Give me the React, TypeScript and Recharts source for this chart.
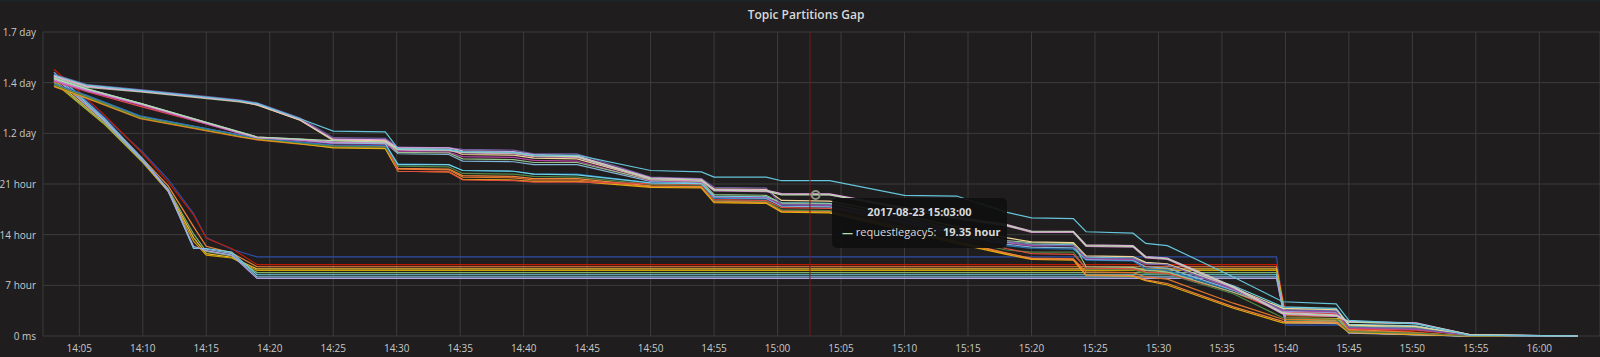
import { LineChart, Line, XAxis, YAxis, CartesianGrid, ReferenceLine, ReferenceDot } from 'recharts';

// minutes after 14:00 ; values in hours
const xTicks = [5, 10, 15, 20, 25, 30, 35, 40, 45, 50, 55, 60, 65, 70, 75, 80, 85, 90, 95, 100, 105, 110, 115, 120];
const xLabels = ['14:05', '14:10', '14:15', '14:20', '14:25', '14:30', '14:35', '14:40', '14:45', '14:50', '14:55', '15:00',
  '15:05', '15:10', '15:15', '15:20', '15:25', '15:30', '15:35', '15:40', '15:45', '15:50', '15:55', '16:00'];
const yTicks = [0, 6.95, 13.9, 20.85, 27.8, 34.75, 41.7];
const yLabels = ['0 ms', '7 hour', '14 hour', '21 hour', '1.2 day', '1.4 day', '1.7 day'];

// fast draining partitions
const timesA = [3, 5, 7, 10, 12, 14, 15, 17, 19, 99.3, 100, 104.3, 105, 110, 114, 123];
const fastA1 = [36.0, 33.2, 30.0, 25.2, 21.5, 16.8, 13.5, 11.9, 10.85, 10.85, 1.5, 1.5, 0.55, 0.3, 0, 0];
const fastA2 = [36.6, 33.5, 30.3, 25.0, 21.1, 16.6, 13.4, 12.0, 9.8, 9.8, 3.2, 3.0, 1.0, 0.6, 0, 0];
const fastA3 = [35.5, 32.6, 29.5, 24.3, 20.6, 15.0, 12.3, 11.4, 9.5, 9.5, 2.8, 2.7, 0.9, 0.5, 0, 0];
const fastA4 = [35.2, 32.2, 29.2, 24.0, 20.0, 13.5, 11.3, 10.8, 9.2, 9.2, 2.5, 2.4, 0.7, 0.4, 0, 0];
const fastA5 = [34.8, 31.9, 29.0, 23.8, 19.8, 13.0, 11.1, 10.7, 9.0, 9.0, 2.3, 2.2, 0.6, 0.3, 0, 0];
const fastA6 = [35.0, 32.0, 29.1, 23.9, 20.2, 14.0, 11.6, 11.0, 8.7, 8.7, 2.2, 2.1, 0.6, 0.3, 0, 0];
const fastA7 = [35.8, 32.8, 29.6, 24.1, 19.9, 12.0, 12.0, 11.5, 8.4, 8.4, 2.0, 1.9, 0.5, 0.2, 0, 0];
const fastA8 = [36.2, 33.0, 29.8, 24.3, 20.1, 12.1, 11.9, 11.3, 8.1, 8.1, 1.9, 1.8, 0.5, 0.2, 0, 0];
const fastA9 = [35.6, 32.5, 29.4, 24.0, 19.9, 12.3, 11.7, 11.1, 7.9, 7.9, 1.8, 1.7, 0.4, 0.2, 0, 0];

// slow, stepping partitions
const timesB = [3, 5.6, 9.8, 17.6, 19, 22.4, 25, 29.1, 30.1, 34.1, 35.2, 39.2, 40.8, 44.2, 50, 54, 55, 59.1, 60.3, 64.1,
  70, 74.1, 78, 80, 83.3, 84.3, 88, 89, 90.7, 95.9, 99.8, 104, 105, 110.3, 114.5, 123];
const slowB0 = [35.8, 34.4, 33.7, 32.3, 31.9, 29.8, 28.1, 28.0, 25.7, 25.6, 25.3, 25.2, 24.8, 24.8, 22.7, 22.5, 21.8, 21.8, 21.3, 21.3,
  19.3, 19.2, 17.0, 16.2, 16.1, 14.3, 14.1, 12.7, 12.4, 8.1, 4.7, 4.4, 2.15, 1.7, 0.1, 0];
const slowB1 = [35.3, 33.9, 31.9, 28.0, 27.3, 27.0, 26.8, 26.6, 25.6, 25.5, 25.2, 25.1, 24.7, 24.6, 21.6, 21.4, 20.0, 19.9, 19.35, 19.35,
  17.5, 16.2, 15.2, 14.3, 14.3, 12.4, 12.3, 10.8, 10.6, 6.7, 3.1, 2.8, 1.9, 1.7, 0.2, 0];
const slowB2 = [35.6, 34.2, 33.6, 32.2, 31.8, 29.7, 27.0, 26.9, 25.8, 25.8, 25.4, 25.3, 24.9, 24.7, 21.7, 21.5, 20.1, 20.0, 19.55, 19.5,
  17.6, 16.3, 15.3, 14.4, 14.35, 12.5, 12.4, 10.9, 10.7, 6.8, 3.2, 2.9, 2.0, 1.8, 0.2, 0];
const slowB3 = [35.1, 33.7, 31.8, 27.9, 27.2, 26.9, 26.6, 26.5, 25.5, 25.4, 25.1, 25.0, 24.6, 24.5, 21.5, 21.3, 19.9, 19.8, 19.45, 19.4,
  17.4, 16.1, 15.1, 14.2, 14.2, 12.3, 12.2, 10.7, 10.5, 6.6, 3.0, 2.7, 1.9, 1.7, 0.2, 0];
const slowB4 = [35.9, 34.5, 33.8, 32.4, 32.0, 29.9, 27.2, 27.1, 25.9, 25.8, 25.6, 25.5, 25.0, 25.0, 21.8, 21.6, 20.4, 20.3, 18.1, 18.0,
  16.0, 14.5, 13.0, 12.5, 12.4, 10.7, 10.6, 9.9, 9.8, 6.5, 3.6, 3.4, 1.2, 1.0, 0.1, 0];
const slowB5 = [35.0, 33.6, 31.7, 27.8, 27.2, 26.8, 26.4, 26.3, 25.3, 25.2, 24.6, 24.5, 24.1, 24.0, 21.3, 21.1, 19.1, 19.0, 18.0, 17.9,
  15.8, 14.2, 12.8, 12.4, 12.4, 10.6, 10.5, 9.9, 9.8, 6.4, 3.5, 3.3, 1.1, 0.9, 0.1, 0];
const slowB6 = [34.6, 33.0, 30.2, 27.6, 27.2, 26.6, 26.2, 26.1, 23.6, 23.5, 22.7, 22.6, 22.2, 22.2, 21.0, 20.9, 18.9, 18.8, 17.9, 17.8,
  15.5, 13.8, 12.4, 12.0, 11.9, 10.4, 10.3, 9.2, 9.0, 6.2, 3.9, 3.7, 1.3, 1.1, 0.1, 0];
const slowB7 = [34.4, 32.8, 30.0, 27.5, 27.1, 26.5, 26.0, 25.9, 23.3, 23.2, 22.3, 22.2, 21.9, 21.8, 20.8, 20.7, 18.6, 18.5, 17.3, 17.2,
  15.0, 13.3, 11.8, 11.5, 11.5, 9.2, 9.1, 8.6, 8.5, 5.8, 2.5, 2.3, 0.6, 0.4, 0, 0];
const slowB8 = [34.3, 32.7, 29.9, 27.4, 27.0, 26.4, 25.8, 25.7, 22.6, 22.5, 21.5, 21.4, 21.2, 21.2, 20.4, 20.3, 18.3, 18.2, 17.0, 16.9,
  14.5, 12.7, 11.2, 10.5, 10.4, 8.3, 8.2, 7.6, 7.0, 3.8, 1.8, 1.8, 0.5, 0.2, 0, 0];
const slowB9 = [34.5, 32.9, 30.1, 27.6, 27.1, 26.6, 26.1, 26.0, 23.0, 22.9, 22.0, 21.9, 21.6, 21.6, 20.6, 20.5, 18.5, 18.4, 17.2, 17.1,
  14.8, 13.0, 11.4, 10.6, 10.5, 8.4, 8.3, 7.7, 7.2, 4.0, 2.0, 1.9, 0.6, 0.3, 0, 0];
const slowB10 = [35.0, 33.5, 31.5, 27.9, 27.3, 26.9, 26.5, 26.4, 22.6, 22.5, 21.4, 21.3, 21.1, 21.1, 20.9, 20.8, 18.7, 18.6, 17.6, 17.5,
  15.3, 13.6, 12.0, 11.3, 11.2, 9.3, 9.2, 8.8, 8.6, 6.0, 3.3, 3.1, 1.0, 0.8, 0.1, 0];
const slowB11 = [35.7, 34.3, 33.6, 32.2, 31.7, 29.6, 26.9, 26.8, 25.7, 25.6, 24.9, 24.8, 24.4, 24.3, 21.5, 21.3, 20.2, 20.1, 18.6, 18.5,
  16.5, 15.0, 13.5, 12.9, 12.8, 11.0, 10.9, 10.1, 9.9, 6.6, 3.8, 3.6, 1.5, 1.3, 0.1, 0];
const slowB12 = [35.3, 33.8, 31.9, 28.0, 27.3, 27.0, 26.6, 26.5, 25.0, 24.9, 24.0, 23.9, 23.5, 23.5, 21.2, 21.0, 19.0, 18.9, 17.8, 17.7,
  15.6, 14.0, 12.6, 12.2, 12.1, 10.5, 10.4, 9.5, 9.3, 6.3, 3.4, 3.2, 1.2, 1.0, 0.1, 0];
const slowB13 = [35.4, 33.9, 31.9, 27.9, 27.2, 26.9, 26.5, 26.4, 23.5, 23.5, 22.7, 22.6, 22.2, 22.1, 21.0, 20.9, 19.2, 19.1, 18.3, 18.2,
  16.0, 14.4, 12.9, 12.6, 12.5, 10.8, 10.7, 10.0, 9.8, 6.9, 4.0, 3.8, 1.6, 1.4, 0.1, 0];
const slowB14 = [34.2, 32.6, 29.8, 27.3, 26.9, 26.3, 25.9, 25.8, 22.9, 22.8, 21.8, 21.7, 21.4, 21.4, 20.5, 20.4, 18.4, 18.3, 17.1, 17.0,
  14.6, 12.9, 11.3, 10.7, 10.6, 8.8, 8.7, 8.1, 7.8, 4.5, 2.3, 2.2, 0.7, 0.4, 0, 0];
const slowB15 = [35.5, 34.1, 33.5, 32.1, 31.7, 29.6, 26.8, 26.7, 25.2, 25.1, 24.3, 24.2, 23.8, 23.8, 21.4, 21.2, 19.4, 19.3, 18.2, 18.1,
  16.2, 14.6, 13.1, 12.8, 12.7, 9.5, 9.4, 9.0, 8.8, 6.0, 3.7, 3.5, 1.4, 1.2, 0.1, 0];

const fastSeries = [fastA1, fastA2, fastA3, fastA4, fastA5, fastA6, fastA7, fastA8, fastA9];
const fastColors = ['#2f4fa8', '#BF1B00', '#EF843C', '#EAB839', '#CCA300', '#7EB26D', '#6ED0E0', '#82B5D8', '#AEA2E0'];
const slowSeries = [slowB14, slowB8, slowB9, slowB7, slowB10, slowB6, slowB12, slowB5, slowB13, slowB15, slowB11, slowB4,
  slowB3, slowB2, slowB1, slowB0];
const slowColors = ['#E0752D', '#E5AC0E', '#EF843C', '#508642', '#E24D42', '#1F78C1', '#82B5D8', '#BA43A9', '#6ED0E0',
  '#9AC48A', '#F4D598', '#705DA0', '#D683CE', '#E5A8E2', '#B7DBAB', '#65C5DB'];

const toPoints = (times: number[], vals: number[]) => times.map((t, i) => ({ t, h: vals[i] }));

const XTick = ({ x, y, payload }: any) => (
  <text x={x} y={y + 14} textAnchor="middle" fill="#c8c9ca" fontSize={10} fontFamily="Open Sans">
    {xLabels[xTicks.indexOf(payload.value)]}
  </text>
);

const YTick = ({ x, y, payload }: any) => (
  <text x={x - 5} y={y + 4} textAnchor="end" fill="#c8c9ca" fontSize={10} fontFamily="Open Sans">
    {yLabels[yTicks.indexOf(payload.value)]}
  </text>
);

const App = () => {
  return (
    <div style={{ position: 'absolute', left: 0, top: 0, width: 1600, height: 357, background: '#1f1d1d', fontFamily: 'Open Sans', overflow: 'hidden' }}>
      <div style={{ position: 'absolute', left: 0, top: 0, width: 1600, height: 2, background: '#1b2228' }} />
      <div style={{ position: 'absolute', left: 0, top: 6, width: 1612, textAlign: 'center', color: '#d8d9da', fontSize: 12, fontWeight: 600 }}>
        Topic Partitions Gap
      </div>
      <LineChart width={1600} height={357} margin={{ top: 32, right: 0, left: 0, bottom: 0 }}>
        <CartesianGrid stroke="#3d3d3d" />
        <XAxis
          type="number"
          dataKey="t"
          domain={[2.14, 124.78]}
          allowDataOverflow
          ticks={xTicks}
          axisLine={false}
          tickLine={false}
          tickSize={0}
          height={21}
          tick={<XTick />}
          interval={0}
        />
        <YAxis
          type="number"
          domain={[0, 41.7]}
          ticks={yTicks}
          axisLine={false}
          tickLine={false}
          tickSize={0}
          width={43}
          tick={<YTick />}
          interval={0}
        />
        {fastSeries.map((s, i) => (
          <Line key={'a' + i} data={toPoints(timesA, s)} dataKey="h" type="linear" stroke={fastColors[i]}
            strokeWidth={1.2} dot={false} activeDot={false} isAnimationActive={false} />
        ))}
        {slowSeries.map((s, i) => (
          <Line key={'b' + i} data={toPoints(timesB, s)} dataKey="h" type="linear" stroke={slowColors[i]}
            strokeWidth={1.2} dot={false} activeDot={false} isAnimationActive={false} />
        ))}
        <ReferenceLine x={62.55} stroke="#7d1818" strokeWidth={1} />
        <ReferenceDot x={63} y={19.35} r={4} fill="none" stroke="#8d9784" strokeWidth={2} />
      </LineChart>
      <div style={{ position: 'absolute', left: 832, top: 198, width: 175, height: 50, background: 'rgba(16,16,16,0.94)', borderRadius: 5, color: '#d8d9da', fontSize: 11 }}>
        <div style={{ position: 'absolute', left: 0, top: 6, width: 175, textAlign: 'center', fontWeight: 700 }}>2017-08-23 15:03:00</div>
        <div style={{ position: 'absolute', left: 10, top: 26, whiteSpace: 'nowrap' }}>
          <span style={{ color: '#B7DBAB', fontWeight: 700 }}>—</span> requestlegacy5:
        </div>
        <div style={{ position: 'absolute', left: 111, top: 26, fontWeight: 700, whiteSpace: 'nowrap' }}>19.35 hour</div>
      </div>
    </div>
  );
};

export default App;
